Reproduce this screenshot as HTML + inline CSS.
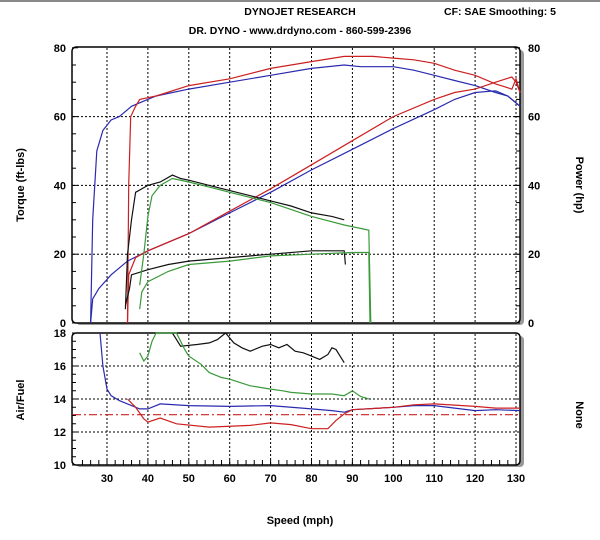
<!DOCTYPE html>
<html><head><meta charset="utf-8"><style>
body{margin:0;background:#fff;}
svg{display:block;font-family:"Liberation Sans",sans-serif;font-weight:bold;}
</style></head><body>
<svg id="s" width="600" height="540" viewBox="0 0 600 540">
<rect x="0" y="0" width="600" height="2" fill="#888"/>
<text x="300" y="15" font-size="10.5" text-anchor="middle">DYNOJET RESEARCH</text>
<text x="500" y="15" font-size="10.5" text-anchor="middle">CF: SAE  Smoothing: 5</text>
<text x="300" y="34" font-size="10.5" text-anchor="middle">DR. DYNO - www.drdyno.com - 860-599-2396</text>
<rect x="76" y="50" width="448" height="275" rx="4" fill="#999"/>
<rect x="72" y="47" width="448" height="276" rx="4" fill="#fff" stroke="#000" stroke-width="1.5"/>
<rect x="76" y="336" width="448" height="131" rx="4" fill="#999"/>
<rect x="72" y="333" width="448" height="132" rx="4" fill="#fff" stroke="#000" stroke-width="1.5"/>
<g id="grid" stroke="#000" stroke-width="1" stroke-dasharray="2,2"></g>
<g id="ticks" stroke="#000" stroke-width="1"></g>
<g id="lbl" font-size="11"></g>
<g id="curves" fill="none" stroke-width="1.2"></g>
<text transform="translate(24,185) rotate(-90)" font-size="11" text-anchor="middle">Torque (ft-lbs)</text>
<text transform="translate(24,400) rotate(-90)" font-size="11" text-anchor="middle">Air/Fuel</text>
<text transform="translate(576,185) rotate(90)" font-size="11" text-anchor="middle">Power (hp)</text>
<text transform="translate(576,415) rotate(90)" font-size="11" text-anchor="middle">None</text>
<text x="300" y="524" font-size="11" text-anchor="middle">Speed (mph)</text>
</svg>
<script>
var NS="http://www.w3.org/2000/svg";
function X(s){return 107+(s-30)*4.09;}
function YT(v){return 323-v*3.44;}
function YB(v){return 465-(v-10)*16.5;}
function el(p,t,a,txt){var e=document.createElementNS(NS,t);for(var k in a)e.setAttribute(k,a[k]);if(txt)e.textContent=txt;document.getElementById(p).appendChild(e);return e;}
for(var s=30;s<=130;s+=10){var x=X(s);
el("grid","line",{x1:x,y1:48,x2:x,y2:322});el("grid","line",{x1:x,y1:334,x2:x,y2:464});
el("lbl","text",{x:x,y:482,"text-anchor":"middle"},""+s);}
[20,40,60].forEach(function(v){el("grid","line",{x1:73,y1:YT(v),x2:519,y2:YT(v)});});
[12,14,16].forEach(function(v){el("grid","line",{x1:73,y1:YB(v),x2:519,y2:YB(v)});});
for(var s=24;s<=131;s+=2){var x=X(s);el("ticks","line",{x1:x,y1:465,x2:x,y2:460});}
for(var v=0;v<=80;v+=5){el("ticks","line",{x1:72,y1:YT(v),x2:v%20?76:78,y2:YT(v)});el("ticks","line",{x1:520,y1:YT(v),x2:v%20?516:514,y2:YT(v)});}
for(var v=10;v<=18;v+=0.5){el("ticks","line",{x1:72,y1:YB(v),x2:v%2?76:78,y2:YB(v)});}
[0,20,40,60,80].forEach(function(v){el("lbl","text",{x:66,y:YT(v)+4,"text-anchor":"end"},""+v);el("lbl","text",{x:528,y:YT(v)+4},""+v);});
[10,12,14,16,18].forEach(function(v){el("lbl","text",{x:66,y:YB(v)+4,"text-anchor":"end"},""+v);});
function path(pts,Y,col,extra){var d="";pts.forEach(function(p,i){d+=(i?"L":"M")+X(p[0]).toFixed(1)+","+Y(p[1]).toFixed(1);});var a={d:d,stroke:col};for(var k in extra)a[k]=extra[k];el("curves","path",a);}
var B="#2a2ab0",R="#cc2020",K="#111",G="#3a9a3a";
path([[26,0],[26.5,30],[27.5,50],[29,56],[31,59],[33,60],[34,61],[36,63],[38,64],[42,66],[50,68],[60,70],[70,72],[80,74],[88,75],[92,74.5],[100,74.5],[105,73.5],[110,72],[115,70.5],[120,69],[125,67],[128,66],[131,63]],YT,B);
path([[35,0],[35.3,40],[35.8,60],[37,63],[38,65],[42,66],[50,69],[60,71],[70,74],[80,76],[88,77.5],[95,77.5],[100,77],[105,76.5],[110,75.5],[115,73.5],[120,72],[125,69.5],[129,68],[130,71],[131,67]],YT,R);
path([[26,0],[26.5,7],[28,10],[31,14],[35,18],[40,21],[50,26],[60,32],[70,38],[80,44.5],[90,50.5],[100,56.5],[110,62],[115,65],[120,67],[125,67.5],[128,66],[131,63]],YT,B);
path([[35,0],[35.3,14],[37,19],[40,21],[50,26],[60,32.5],[70,39],[80,46],[90,53],[100,60],[110,65],[115,67],[120,68],[125,70],[129,71.5],[130,70],[131,67]],YT,R);
path([[34.5,4],[35,20],[36,30],[37,38],[40,40],[43,41],[46,43],[48,42],[50,41.5],[55,40],[60,38.5],[65,37],[70,35.5],[75,34],[80,32],[85,31],[88,30]],YT,K);
path([[34.5,5],[35.5,10],[36,14],[40,15.5],[45,17],[50,18],[60,19],[70,20],[80,21],[85,21],[88,21],[88.3,17]],YT,K);
path([[38,11],[39,20],[40,31],[41,37],[43,40],[46,42],[50,41],[55,39.5],[60,38],[70,35],[80,31],[88,28.5],[94,27],[94.5,0]],YT,G);
path([[38,4],[38.5,9],[40,12],[45,15],[50,17],[60,18],[70,19.5],[80,20],[90,20.5],[94,20.5],[94.3,0]],YT,G);
el("curves","line",{x1:73,y1:YB(13.05),x2:519,y2:YB(13.05),stroke:R,"stroke-dasharray":"8,3,2,3"});
path([[28.3,18],[29,16],[30,14.6],[31,14.2],[33,13.9],[35,13.7],[38,13.4],[40,13.4],[43,13.7],[50,13.6],[60,13.55],[70,13.6],[80,13.4],[85,13.3],[88,13.2],[90,13.35],[100,13.5],[105,13.6],[110,13.6],[115,13.45],[120,13.3],[125,13.35],[131,13.3]],YB,B);
path([[35,14],[37,13.5],[39,12.8],[40,12.6],[43,12.85],[47,12.5],[55,12.3],[65,12.4],[70,12.55],[75,12.45],[80,12.2],[84,12.2],[86,12.7],[88,13.1],[90,13.35],[100,13.5],[105,13.65],[110,13.7],[120,13.55],[125,13.45],[131,13.45]],YB,R);
path([[46,18],[47,17.6],[48,17.2],[52,17.3],[55,17.4],[57,17.6],[59,18],[61,17.4],[63,17.1],[65,16.9],[68,17.2],[70,17.3],[72,17.1],[74,17.3],[76,16.9],[78,16.8],[80,16.6],[82,16.4],[84,16.7],[85,17.1],[86,17.0],[88,16.2]],YB,K);
path([[38,16.8],[39,16.3],[40,16.6],[41,17.5],[42,18],[47,18],[49,17.0],[50,16.6],[53,16.1],[55,15.6],[58,15.3],[60,15.2],[65,14.8],[70,14.6],[73,14.5],[75,14.4],[80,14.3],[85,14.3],[88,14.2],[90,14.5],[92,14.15],[94,14.0]],YB,G);
</script>
</body></html>
